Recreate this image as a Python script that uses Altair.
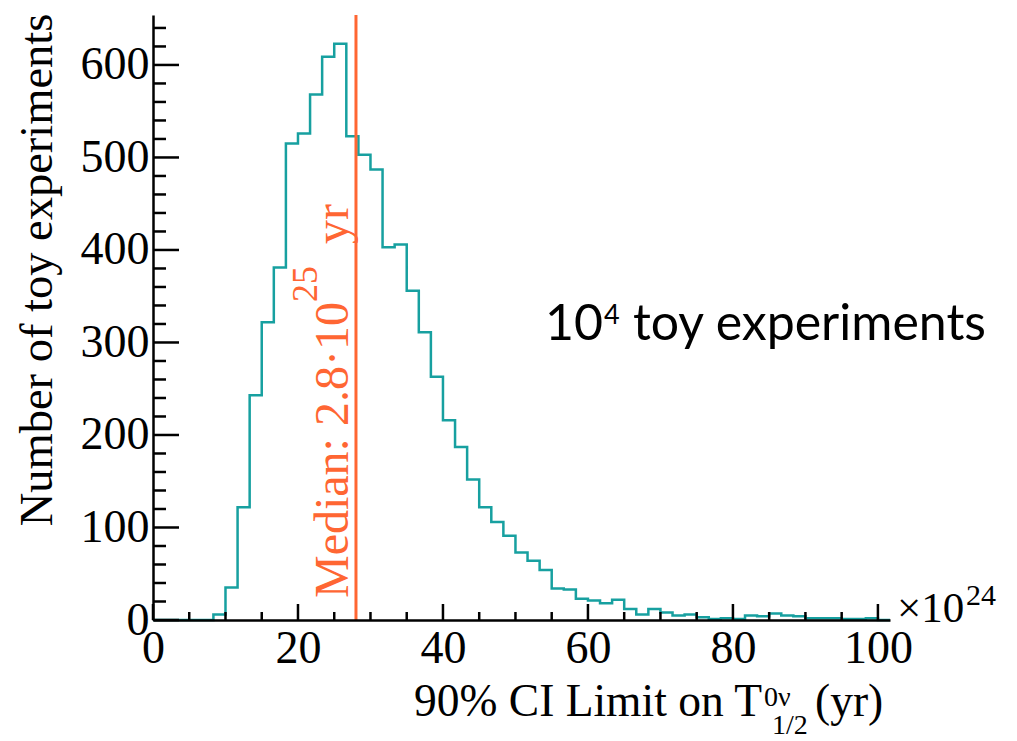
import altair as alt
import pandas as pd

# Histogram of the 90% CI half-life limit from toy experiments (units of 1e24 yr)
BIN_WIDTH = 5 / 3
counts = [
    0, 0, 0, 0, 0, 6, 35, 122, 243, 322,
    381, 515, 526, 568, 609, 623, 523, 503, 487, 403,
    406, 356, 311, 263, 216, 187, 152, 122, 106, 91,
    73, 64, 54, 34, 33, 23, 21, 18, 22, 12,
    6, 12, 8, 5, 6, 3, 1, 2, 1, 5,
    4, 7, 5, 4, 2, 2, 2, 1, 1, 2,
    0,
]
median_limit = [28]
x_major = [0, 20, 40, 60, 80, 100]
x_minor = [v for v in range(5, 101, 5) if v % 20]
y_major = [0, 100, 200, 300, 400, 500, 600]
y_minor = [v for v in range(20, 641, 20) if v % 100]

edges = [i * BIN_WIDTH for i in range(len(counts) + 1)]
x_max = edges[-1]
y_max = 654

hist_df = pd.DataFrame({"x": edges, "n": counts + [counts[-1]]})

W, H = 737, 605
SERIF = "Liberation Serif"
SANS = "Lato"
TEAL = "#17a0a0"
ORANGE = "#ff6633"
AXW = 2.5

xscale = alt.Scale(domain=[0, x_max], nice=False, zero=False)
yscale = alt.Scale(domain=[0, y_max], nice=False)

common_axis = dict(
    title=None, ticks=False, grid=False, labelFont=SERIF, labelFontSize=46,
    labelColor="black", labelFlush=False, labelOverlap=False, labelBound=False,
    domainColor="black", domainWidth=AXW, zindex=1,
)
X_AXIS = alt.Axis(values=x_major, labelPadding=6, **common_axis)
Y_AXIS = alt.Axis(values=y_major, labelPadding=4, **common_axis)


def xq(field):
    return alt.X(field, type="quantitative", scale=xscale, axis=X_AXIS)


def yq(field):
    return alt.Y(field, type="quantitative", scale=yscale, axis=Y_AXIS)


hist = alt.Chart(hist_df).mark_line(
    interpolate="step-after", color=TEAL, strokeWidth=2.5
).encode(x=xq("x"), y=yq("n"))

median_rule = alt.Chart(pd.DataFrame({"m": median_limit})).mark_rule(
    color=ORANGE, strokeWidth=3
).encode(x=xq("m"))


# ROOT-style inward ticks
def x_ticks(values, length):
    return alt.Chart(pd.DataFrame({"v": values})).mark_rule(
        color="black", strokeWidth=AXW
    ).encode(x=xq("v"), y=alt.value(H), y2=alt.value(H - length))


def y_ticks(values, length):
    return alt.Chart(pd.DataFrame({"v": values})).mark_rule(
        color="black", strokeWidth=AXW
    ).encode(y=yq("v"), x=alt.value(0), x2=alt.value(length))


one = pd.DataFrame({"a": [0]})


def label(text, x, y, size, font=SERIF, color="black", align="left", angle=0):
    return alt.Chart(one).mark_text(
        text=text, font=font, fontSize=size, color=color, align=align,
        baseline="alphabetic", angle=angle,
    ).encode(x=alt.value(x), y=alt.value(y))


texts = [
    # y axis title
    label("Number of toy experiments", -101, 255, 46.5, align="center", angle=270),
    # x axis title with T^{0ν}_{1/2}
    label("90% CI Limit on T", 609, 701, 45.5, align="right"),
    label("0ν", 611, 691, 28),
    label("1/2", 619, 719, 28),
    label("(yr)", 662, 701, 45.5),
    # axis exponent
    label("×10", 744, 607, 43),
    label("24", 813, 590, 30),
    # annotation
    label("10", 392, 325, 50, font=SANS),
    label("4", 451, 309, 27, font=SANS),
    label("toy experiments", 480, 325, 50, font=SANS),
    # median label
    label("Median: 2.8·10", 195, 583, 48, color=ORANGE, angle=270),
    label("25", 164, 287, 36, color=ORANGE, angle=270),
    label("yr", 195, 229, 48, color=ORANGE, angle=270),
]

chart = alt.layer(
    hist,
    median_rule,
    x_ticks(x_major, 16),
    x_ticks(x_minor, 8),
    y_ticks(y_major, 26),
    y_ticks(y_minor, 13),
    *texts,
).properties(
    width=W,
    height=H,
    autosize=alt.AutoSizeParams(type="none"),
    padding={"left": 153, "top": 15, "right": 127, "bottom": 121},
    background="white",
).configure_view(stroke=None)

chart.save("out.html", embed_options={"renderer": "svg", "actions": False})
